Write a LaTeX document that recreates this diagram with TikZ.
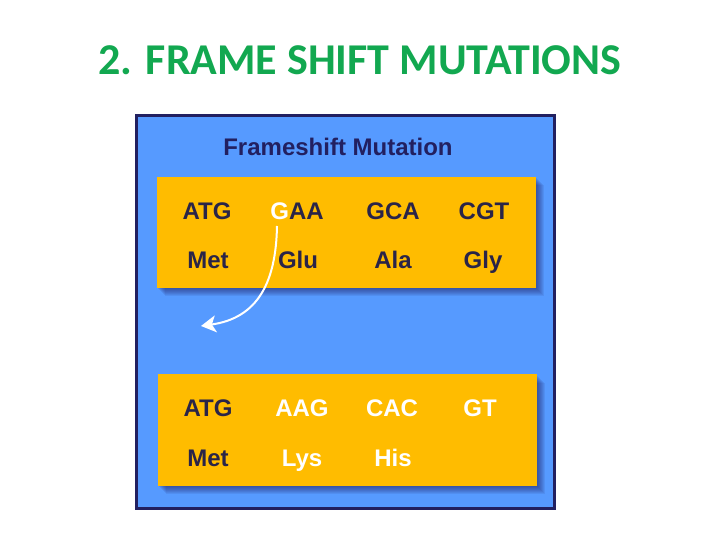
\documentclass[tikz,border=0pt]{standalone}
\usepackage{fontspec}
\setmainfont{Liberation Sans}
\newfontfamily\slidefont{Carlito}
\usetikzlibrary{arrows.meta, positioning, calc}
\definecolor{titlegreen}{RGB}{18,168,80}
\definecolor{panelblue}{RGB}{86,154,255}
\definecolor{navy}{RGB}{34,32,96}
\definecolor{stripgold}{RGB}{255,188,0}
\definecolor{codonink}{RGB}{42,36,72}

\begin{document}
\begin{tikzpicture}[x=1pt, y=-1pt,
  codon/.style={font=\fontsize{24}{24}\selectfont\bfseries, text=codonink, anchor=base},
  shifted/.style={codon, text=white},
  strip/.style={fill=stripgold, minimum width=379pt, minimum height=111pt, inner sep=0pt}]
  \useasboundingbox (0,0) rectangle (720,540);
  \fill[white] (0,0) rectangle (720,540);

  % slide title
  \node[font=\slidefont\fontsize{44}{44}\selectfont\bfseries, text=titlegreen] (slidetitle) at (360,60) {2. FRAME SHIFT MUTATIONS};

  % blue panel
  \draw[navy, line width=3pt, fill=panelblue] (136.5,115.5) rectangle (554.5,508.5);
  \node[font=\fontsize{24}{24}\selectfont\bfseries, text=navy, anchor=base] (paneltitle) at (338,156) {Frameshift Mutation};

  % original reading frame
  \coordinate (topc) at (346.5,232.5);
  \coordinate (botc) at (347.5,430);
  \foreach \c in {topc, botc} {
    \foreach \s in {1,...,8}
      \fill[navy, opacity=0.09] ($(\c)+(-189.5+\s,-55.5+\s)$) rectangle ($(\c)+(189.5+\s,55.5+\s)$);
  }
  \node[strip] (topstrip) at (topc) {};
  \node[codon] (atg) at (207,220) {ATG};
  \node[codon] (gaa) at (297,220) {\textcolor{white}{G}AA};
  \node[codon] (gca) at (393,220) {GCA};
  \node[codon] (cgt) at (484,220) {CGT};
  \node[codon] (met) at (208,268) {Met};
  \node[codon] (glu) at (298,268) {Glu};
  \node[codon] (ala) at (393,268) {Ala};
  \node[codon] (gly) at (483,268) {Gly};

  % shifted reading frame
  \node[strip, minimum height=112pt] (botstrip) at (botc) {};
  \node[codon] (atgb) at (208,416) {ATG};
  \node[shifted] (aag) at (302,416) {AAG};
  \node[shifted] (cac) at (392,416) {CAC};
  \node[shifted] (gt) at (480,416) {GT};
  \node[codon] (metb) at (208,466) {Met};
  \node[shifted] (lys) at (302,466) {Lys};
  \node[shifted] (his) at (393,466) {His};

  % deleted base
  \coordinate (gstart) at (277,226);
  \coordinate (gend) at (201,326);
  \draw[white, line width=2pt, -{Stealth[length=15pt, width=17pt, inset=4pt]}]
    (gstart) .. controls (276,282) and (258,318) .. (gend);
\end{tikzpicture}
\end{document}
